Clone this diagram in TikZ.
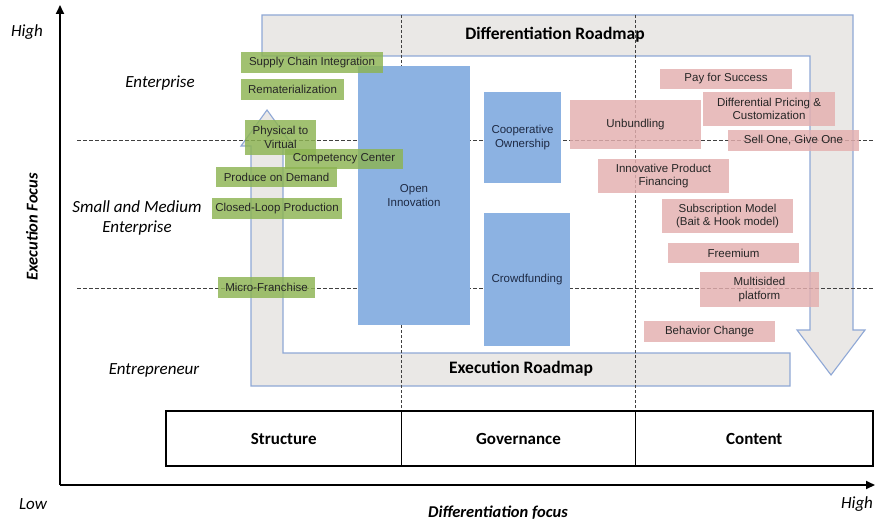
\documentclass[tikz,border=0pt]{standalone}
\usepackage{fontspec}
\setmainfont{Liberation Sans}
\newfontfamily\calfont{Carlito}
\usetikzlibrary{arrows.meta}
\definecolor{gfill}{HTML}{8DB452}
\definecolor{pfill}{HTML}{E4AFAF}
\definecolor{bfill}{HTML}{8CB2E2}
\definecolor{bandfill}{HTML}{EAE8E6}
\definecolor{bandline}{HTML}{8FA8D6}
\definecolor{dashcol}{HTML}{404040}
\definecolor{txt}{HTML}{262626}
\definecolor{btxt}{HTML}{1E2A44}
\tikzset{
  bandst/.style={fill=bandfill, draw=bandline, line width=1.1pt, line join=miter},
  roadtxt/.style={font=\calfont\bfseries\fontsize{17.5}{20}\selectfont, text=black, inner sep=0},
  boxbase/.style={inner sep=0, align=center, font=\fontsize{11.5}{13.5}\selectfont, text opacity=1},
  gbox/.style={boxbase, fill=gfill, fill opacity=0.82, text=txt},
  pbox/.style={boxbase, fill=pfill, fill opacity=0.82, text=txt},
  bbox/.style={boxbase, fill=bfill, text=btxt},
  guide/.style={draw=dashcol, line width=0.8pt, dash pattern=on 3.5pt off 2.5pt},
  vguide/.style={draw=dashcol, line width=0.7pt, dash pattern=on 3pt off 2pt},
  tcell/.style={draw=black, line width=1.2pt, minimum height=55pt, inner sep=0, font=\calfont\bfseries\fontsize{17}{20}\selectfont},
  axis/.style={draw=black, line width=2pt, -{Triangle[length=9pt,width=8pt]}},
  lbl/.style={font=\calfont\itshape\fontsize{17}{20}\selectfont, inner sep=0, align=center},
  blbl/.style={font=\calfont\bfseries\itshape\fontsize{16.5}{20}\selectfont, inner sep=0}
}
\begin{document}
\begin{tikzpicture}[x=1pt,y=-1pt]
\useasboundingbox (0,0) rectangle (875,524);
\fill[white] (0,0) rectangle (875,524);

% roadmap arrows
\draw[bandst] (262,15) -- (853,15) -- (853,330) -- (865,330) -- (831,375) -- (797,330) -- (810,330) -- (810,56) -- (262,56) -- cycle;
\draw[bandst] (790,353) -- (283,353) -- (283,146) -- (293,146) -- (267,110) -- (241,146) -- (251,146) -- (251,386) -- (790,386) -- cycle;
\node[roadtxt] (dr) at (555,35) {Differentiation Roadmap};
\node[roadtxt] (er) at (521,369) {Execution Roadmap};

% guide lines
\coordinate (h1a) at (77,140); \coordinate (h1b) at (875,140);
\coordinate (h2a) at (77,288); \coordinate (h2b) at (875,288);
\coordinate (v1a) at (401.5,15); \coordinate (v1b) at (401.5,411);
\coordinate (v2a) at (635.5,15); \coordinate (v2b) at (635.5,411);
\draw[guide] (h1a) -- (h1b);
\draw[guide] (h2a) -- (h2b);
\draw[vguide] (v1a) -- (v1b);
\draw[vguide] (v2a) -- (v2b);

% blue boxes
\node[bbox, minimum width=112pt, minimum height=259pt] (oi) at (414,195.5) {Open\\Innovation};
\node[bbox, minimum width=77pt, minimum height=91pt] (co) at (522.5,137.5) {Cooperative\\Ownership};
\node[bbox, minimum width=86pt, minimum height=133pt] (cf) at (527,279.5) {Crowdfunding};

% green boxes
\node[gbox, minimum width=142pt, minimum height=21pt] (sci) at (312,62.5) {Supply Chain Integration};
\node[gbox, minimum width=103pt, minimum height=21pt] (remat) at (292.5,89.5) {Rematerialization};
\node[gbox, minimum width=71pt, minimum height=35pt] (p2v) at (280.5,137.5) {Physical to\\Virtual};
\node[gbox, minimum width=118pt, minimum height=20pt] (comp) at (344,159) {Competency Center};
\node[gbox, minimum width=121pt, minimum height=20pt] (pod) at (276.5,177) {Produce on Demand};
\node[gbox, minimum width=130pt, minimum height=21pt] (clp) at (277,208.5) {Closed-Loop Production};
\node[gbox, minimum width=97pt, minimum height=21pt] (mf) at (266.5,287.5) {Micro-Franchise};

% pink boxes
\node[pbox, minimum width=132pt, minimum height=20pt] (pfs) at (726,79) {Pay for Success};
\node[pbox, minimum width=132pt, minimum height=34pt] (dpc) at (769,109) {Differential Pricing \&\\Customization};
\node[pbox, minimum width=131pt, minimum height=49pt] (unb) at (635.5,124.5) {Unbundling};
\node[pbox, minimum width=131pt, minimum height=21pt] (sog) at (793.5,140.5) {Sell One, Give One};
\node[pbox, minimum width=131pt, minimum height=34pt] (ipf) at (663.5,176) {Innovative Product\\Financing};
\node[pbox, minimum width=131pt, minimum height=34pt] (sub) at (727.5,216) {Subscription Model\\(Bait \& Hook model)};
\node[pbox, minimum width=131pt, minimum height=20pt] (free) at (733.5,253) {Freemium};
\node[pbox, minimum width=119pt, minimum height=35pt] (msp) at (759.5,289.5) {Multisided\\platform};
\node[pbox, minimum width=131pt, minimum height=21pt] (bc) at (709.5,331.5) {Behavior Change};

% table
\node[tcell, minimum width=235.5pt] (structure) at (283.75,438.5) {Structure};
\node[tcell, minimum width=234pt] (governance) at (518.5,438.5) {Governance};
\node[tcell, minimum width=237.5pt] (content) at (754.25,438.5) {Content};

% axes
\coordinate (o) at (60,485);
\coordinate (ytop) at (60,5);
\coordinate (xend) at (875,485);
\draw[axis] (o) -- (ytop);
\draw[axis] (o) -- (xend);

% labels
\node[lbl] (hy) at (27,32) {High};
\node[lbl] (lowx) at (33,504) {Low};
\node[lbl] (hx) at (857,504) {High};
\node[lbl] (ent) at (160,83) {Enterprise};
\node[lbl] (sme) at (137,218) {Small and Medium\\Enterprise};
\node[lbl] (entr) at (154,370) {Entrepreneur};
\node[blbl, rotate=90] (ef) at (32,227) {Execution Focus};
\node[blbl] (df) at (498,513) {Differentiation focus};
\end{tikzpicture}
\end{document}
